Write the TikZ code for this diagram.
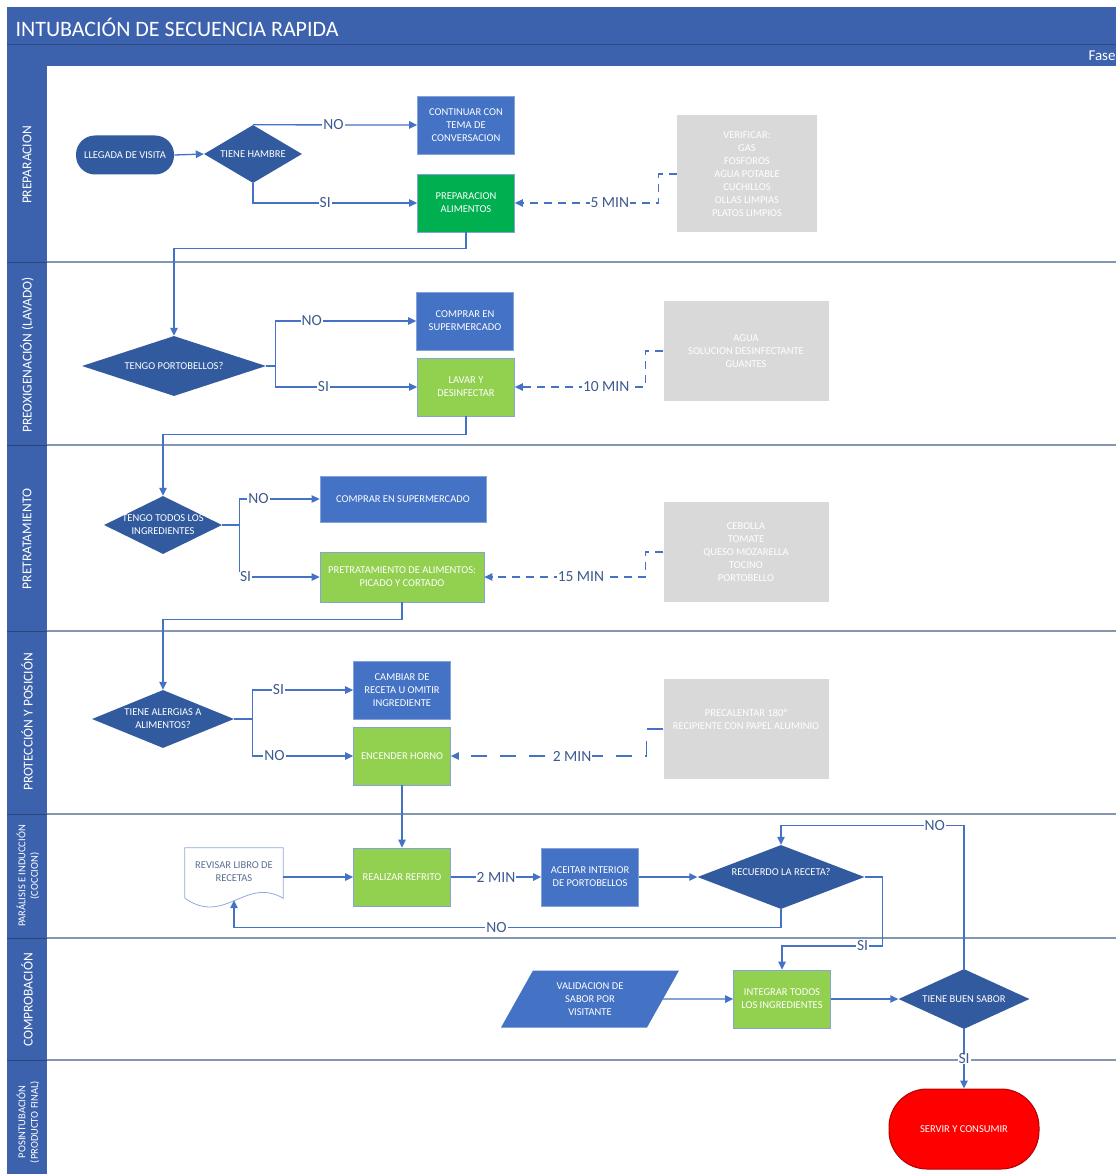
\documentclass[tikz,border=0pt]{standalone}
\usepackage{fontspec}
\setmainfont{Carlito}
\usetikzlibrary{shapes.geometric,arrows.meta,calc}
\definecolor{headblue}{HTML}{3D62AD}
\definecolor{boxblue}{HTML}{4472C4}
\definecolor{dmdblue}{HTML}{325A9E}
\definecolor{prepgreen}{HTML}{00B050}
\definecolor{litegreen}{HTML}{92D050}
\definecolor{grayfill}{HTML}{D9D9D9}
\definecolor{lanegray}{HTML}{8497B0}
\definecolor{lbltext}{HTML}{3E5B8E}
\definecolor{docline}{HTML}{8FAADC}
\definecolor{doctext}{HTML}{5B6E92}
\definecolor{servred}{HTML}{FF0000}
\begin{document}
\begin{tikzpicture}[x=1pt, y=-1pt,
  proc/.style={rectangle, fill=boxblue, draw=white!35!boxblue, line width=0.8pt, text=white, align=center, font=\fontsize{10.5}{12.8}\selectfont, minimum width=97pt, minimum height=58pt, inner sep=1pt},
  term/.style={proc, fill=dmdblue, draw=none, rounded corners=19pt, minimum width=98pt, minimum height=39pt},
  decision/.style={diamond, fill=dmdblue, inner sep=0pt},
  dtext/.style={text=white, align=center, font=\fontsize{10.5}{12.8}\selectfont, inner sep=0pt},
  graybox/.style={rectangle, fill=grayfill, text=white, align=center, font=\fontsize{10.5}{13}\selectfont, minimum width=165pt, minimum height=100pt},
  docbox/.style={rectangle, text=doctext, align=center, font=\fontsize{10.5}{12.8}\selectfont, minimum width=98pt, minimum height=48pt, inner sep=1pt},
  para/.style={trapezium, trapezium left angle=60, trapezium right angle=120, trapezium stretches=true, fill=boxblue, text=white, align=center, font=\fontsize{10.5}{12.8}\selectfont, minimum width=178pt, minimum height=57pt, inner sep=0pt},
  line/.style={draw=boxblue, line width=1.3pt, -{Triangle[length=8pt,width=7.5pt]}},
  dline/.style={line, dash pattern=on 8pt off 6pt},
  dlong/.style={line, dash pattern=on 16pt off 13pt},
  lbl/.style={fill=white, text=lbltext, font=\fontsize{15.5}{18}\selectfont, inner xsep=1pt, inner ysep=0pt},
  lanetxt/.style={rotate=90, text=white, font=\fontsize{13.5}{16}\selectfont, align=center},
  lanesmall/.style={lanetxt, font=\fontsize{10.5}{12.5}\selectfont},
  laneline/.style={draw=lanegray, line width=1.5pt}
]
\fill[white] (0,0) rectangle (1116,1174);
\useasboundingbox (0,0) rectangle (1116,1174);
\fill[headblue] (7,7) rectangle (1116,66);
\draw[headblue!75!black, line width=1pt] (7,45) -- (1116,45);
\fill[headblue] (7,66) rectangle (47,1174);
\foreach \y in {262,445,631,814,938,1060} {
  \draw[laneline] (47,\y) -- (1116,\y);
  \draw[headblue!70!black, line width=1pt] (7,\y) -- (47,\y);
}
\node[anchor=west, text=white, font=\fontsize{22}{26}\selectfont] (titulo) at (12,27) {INTUBACIÓN DE SECUENCIA RAPIDA};
\node[anchor=west, text=white, font=\fontsize{15}{18}\selectfont] (fase) at (1085,56) {Fase};
\node[lanetxt] (lane1) at (27,165) {PREPARACION};
\node[lanetxt] (lane2) at (27,355) {PREOXIGENACIÓN (LAVADO)};
\node[lanetxt] (lane3) at (27,539) {PRETRATAMIENTO};
\node[lanetxt] (lane4) at (27,722) {PROTECCIÓN Y POSICIÓN};
\node[lanesmall] (lane5) at (28,876) {PARÁLISIS E INDUCCIÓN\\(COCCION)};
\node[lanetxt] (lane6) at (27,1000) {COMPROBACIÓN};
\node[lanesmall] (lane7) at (28,1122) {POSINTUBACIÓN\\(PRODUCTO FINAL)};

\node[term] (llegada) at (125,155) {LLEGADA DE VISITA};
\node[decision, minimum width=98pt, minimum height=58pt, label={[dtext]center:TIENE HAMBRE}] (hambre) at (253,154) {};
\node[proc] (continuar) at (466,125) {CONTINUAR CON\\TEMA DE\\CONVERSACION};
\node[proc, fill=prepgreen] (prep) at (466,203) {PREPARACION\\ALIMENTOS};
\node[graybox, minimum width=140pt, minimum height=117pt] (verificar) at (747,174) {VERIFICAR:\\GAS\\FOSFOROS\\AGUA POTABLE\\CUCHILLOS\\OLLAS LIMPIAS\\PLATOS LIMPIOS};
\draw[line] (llegada.east) -- (hambre.west);
\draw[line] (hambre.north) -- node[lbl, pos=0.49]{NO} (continuar.west);
\draw[line] (hambre.south) |- node[lbl, pos=0.72]{SI} (prep.west);
\draw[dline] (verificar.west) -- ++(-18,0) |- node[lbl, pos=0.67]{5 MIN} (prep.east);

\node[decision, minimum width=184pt, minimum height=60pt, label={[dtext]center:TENGO PORTOBELLOS?}] (portob) at (174,366) {};
\node[proc] (comprar) at (465,321) {COMPRAR EN\\SUPERMERCADO};
\node[proc, fill=litegreen] (lavar) at (466,387) {LAVAR Y\\DESINFECTAR};
\node[graybox] (agua) at (746,351) {AGUA\\SOLUCION DESINFECTANTE\\GUANTES};
\draw[line] (prep.south) -- ++(0,16) -| (portob.north);
\draw[line] (portob.east) -- ++(9,0) |- node[lbl, pos=0.63]{NO} (comprar.west);
\draw[line] (portob.east) -- ++(9,0) |- node[lbl, pos=0.67]{SI} (lavar.west);
\draw[dline] (agua.west) -- ++(-18,0) |- node[lbl, pos=0.65]{10 MIN} (lavar.east);

\node[decision, minimum width=118pt, minimum height=58pt, label={[dtext]center:TENGO TODOS LOS\\INGREDIENTES}] (todos) at (163,525) {};
\node[proc, minimum width=166pt, minimum height=46pt] (compsuper) at (403,499) {COMPRAR EN SUPERMERCADO};
\node[proc, fill=litegreen, minimum width=164pt, minimum height=50pt] (picado) at (402,577) {PRETRATAMIENTO DE ALIMENTOS:\\PICADO Y CORTADO};
\node[graybox] (cebolla) at (746,552) {CEBOLLA\\TOMATE\\QUESO MOZARELLA\\TOCINO\\PORTOBELLO};
\draw[line] (lavar.south) -- ++(0,18) -| (todos.north);
\draw[line] (todos.east) -- ++(17,0) |- node[lbl, pos=0.62]{NO} (compsuper.west);
\draw[line] (todos.east) -- ++(17,0) |- node[lbl, pos=0.54]{SI} (picado.west);
\draw[dline] (cebolla.west) -- ++(-18,0) |- node[lbl, pos=0.7]{15 MIN} (picado.east);

\node[decision, minimum width=142pt, minimum height=58pt, label={[dtext]center:TIENE ALERGIAS A\\ALIMENTOS?}] (alergia) at (163,719) {};
\node[proc] (cambiar) at (402,690) {CAMBIAR DE\\RECETA U OMITIR\\INGREDIENTE};
\node[proc, fill=litegreen] (horno) at (402,756) {ENCENDER HORNO};
\node[graybox] (precal) at (746,729) {PRECALENTAR 180°\\RECIPIENTE CON PAPEL ALUMINIO\\[6pt]};
\draw[line] (picado.south) -- ++(0,17) -| (alergia.north);
\draw[line] (alergia.east) -- ++(18,0) |- node[lbl, pos=0.63]{SI} (cambiar.west);
\draw[line] (alergia.east) -- ++(18,0) |- node[lbl, pos=0.61]{NO} (horno.west);
\draw[dlong] (precal.west) -- ++(-17,0) |- node[lbl, pos=0.69]{2 MIN} (horno.east);

\node[docbox] (revisar) at (234,872) {REVISAR LIBRO DE\\RECETAS};
\draw[docline, line width=0.8pt] ($(revisar.south west)+(0,2)$) -- (revisar.north west) -- (revisar.north east) -- ($(revisar.south east)+(0,2)$) .. controls +(-38,-22) and +(40,28) .. ($(revisar.south west)+(0,2)$);
\coordinate (revbot) at ($(revisar.south)+(0,4)$);
\node[proc, fill=litegreen] (refrito) at (402,877) {REALIZAR REFRITO};
\node[proc] (aceitar) at (590,877) {ACEITAR INTERIOR\\DE PORTOBELLOS};
\node[decision, minimum width=167pt, minimum height=64pt, label={[dtext, yshift=5pt]center:RECUERDO LA RECETA?}] (recuerdo) at (781,877) {};
\draw[line] (horno.south) -- (refrito.north);
\draw[line] (revisar.east |- refrito.west) -- (refrito.west);
\draw[line] (refrito.east) -- node[lbl]{2 MIN} (aceitar.west);
\draw[line] (aceitar.east) -- (recuerdo.west);
\draw[line] (recuerdo.south) -- ++(0,18) -| node[lbl, pos=0.26]{NO} (revbot);

\node[para] (valid) at (590,999) {VALIDACION DE\\SABOR POR\\VISITANTE};
\node[proc, fill=litegreen] (integrar) at (782,999) {INTEGRAR TODOS\\LOS INGREDIENTES};
\node[decision, minimum width=131pt, minimum height=60pt, label={[dtext]center:TIENE BUEN SABOR}] (sabor) at (964,999) {};
\draw[line] (recuerdo.east) -- ++(18,0) -- ++(0,69) -| node[lbl, pos=0.1]{SI} (integrar.north);
\draw[line] (valid.east) -- (integrar.west);
\draw[line] (integrar.east) -- (sabor.west);
\draw[line] (sabor.north) -- ++(0,-143) -| node[lbl, pos=0.08]{NO} (recuerdo.north);

\node[term, fill=servred, draw=red!70!black, line width=1pt, minimum width=150pt, minimum height=80pt, rounded corners=38pt] (servir) at (964,1129) {SERVIR Y CONSUMIR};
\draw[line] (sabor.south) -- node[lbl]{SI} (servir.north);
\end{tikzpicture}
\end{document}
